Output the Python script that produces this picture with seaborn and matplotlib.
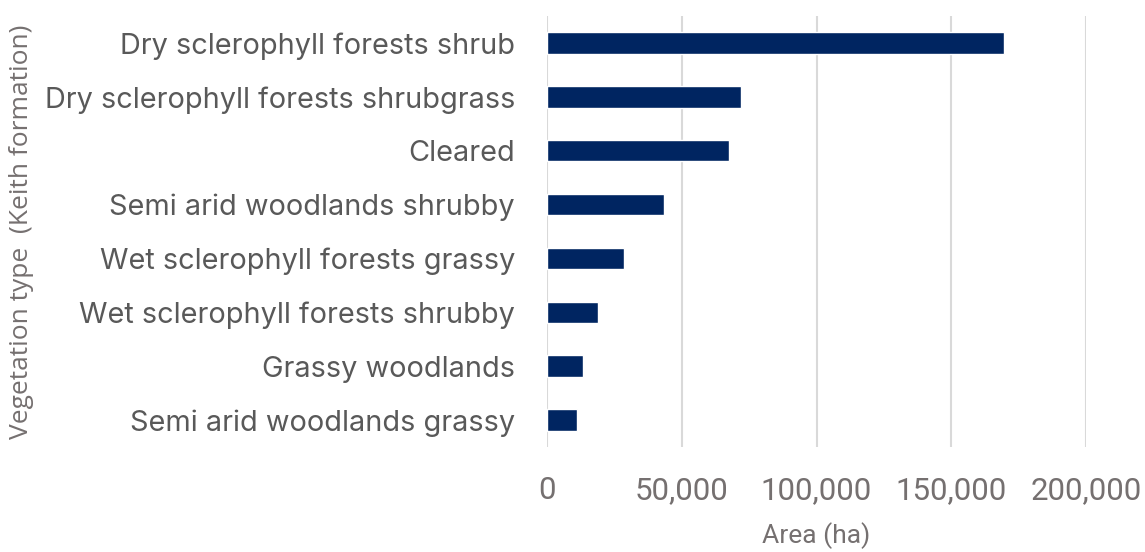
import matplotlib
matplotlib.use("Agg")
import matplotlib.pyplot as plt
import seaborn as sns
import pandas as pd
from matplotlib.ticker import FuncFormatter, MultipleLocator

categories = [
    "Dry sclerophyll forests shrub",
    "Dry sclerophyll forests shrubgrass",
    "Cleared",
    "Semi arid woodlands shrubby",
    "Wet sclerophyll forests grassy",
    "Wet sclerophyll forests shrubby",
    "Grassy woodlands",
    "Semi arid woodlands grassy",
]
area_ha = [169500, 71800, 67600, 43400, 28400, 19000, 13500, 11100]

df = pd.DataFrame({"Vegetation": categories, "Area": area_ha})

sns.set_theme(style="white")
plt.rcParams["font.family"] = ["Inter", "DejaVu Sans"]

fig = plt.figure(figsize=(11.45, 5.52), dpi=100)
ax = fig.add_axes([547 / 1145, 1 - 447 / 552, (1086 - 547) / 1145, (447 - 16) / 552])

sns.barplot(data=df, x="Area", y="Vegetation", orient="h", color="#002561",
            saturation=1, width=0.4, ax=ax)

ax.set_xlim(0, 200000)
ax.set_ylim(len(categories) - 0.5, -0.5)
ax.xaxis.set_major_locator(MultipleLocator(50000))
ax.xaxis.set_major_formatter(FuncFormatter(lambda v, p: f"{int(v):,}"))
ax.grid(axis="x", color="#d9d9d9", linewidth=1.5)
ax.set_axisbelow(True)
for s in ax.spines.values():
    s.set_visible(False)
ax.tick_params(axis="both", length=0)
ax.tick_params(axis="y", labelsize=20.8, labelcolor="#595959", pad=23)
ax.tick_params(axis="x", labelsize=22.5, labelcolor="#757070", pad=21)
for t in ax.get_xticklabels():
    t.set_family(["Roboto", "DejaVu Sans"])

ax.set_xlabel("Area (ha)", fontsize=19, color="#757070", labelpad=12,
              family=["Roboto", "DejaVu Sans"])
ax.set_ylabel("Vegetation type  (Keith formation)", fontsize=19, color="#757070",
              family=["Open Sans", "DejaVu Sans"])
ax.yaxis.set_label_coords(-0.952, 0.5)

fig.savefig("out.png", dpi=100)
